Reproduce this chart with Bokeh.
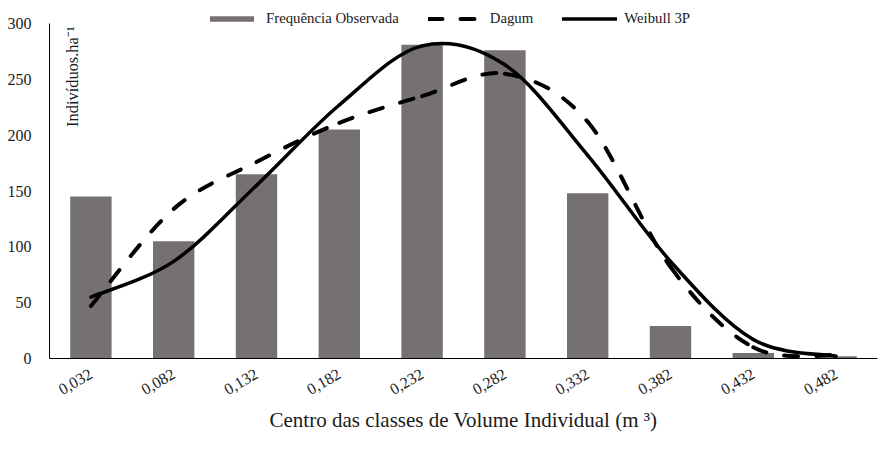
import math
from bokeh.plotting import figure
from bokeh.models import FixedTicker, Legend, LegendItem, Label, Range1d, ColumnDataSource
from bokeh.embed import file_html
from bokeh.resources import INLINE

# ---- data ----
classes = ["0,032", "0,082", "0,132", "0,182", "0,232", "0,282", "0,332", "0,382", "0,432", "0,482"]
observed = [145, 105, 165, 205, 281, 276, 148, 29, 5, 2]
dagum = [47, 134, 176, 211, 235, 255, 212, 82, 10, 3]
weibull = [55, 87, 155, 227, 280, 263, 182, 87, 17, 2]
y_ticks = [0, 50, 100, 150, 200, 250, 300]

FONT = "Liberation Serif"
TXT = "#1a1a1a"

p = figure(width=880, height=443, x_range=classes, y_range=Range1d(0, 320.6),
           output_backend="svg", toolbar_location=None,
           min_border_left=49, min_border_right=3, min_border_top=0, min_border_bottom=85)
p.grid.visible = False
p.outline_line_color = None
p.background_fill_color = "white"
p.border_fill_color = "white"

bars = p.vbar(x=classes, top=observed, width=0.5, fill_color="#767171", line_color=None)


def smooth_segments(vals):
    n = len(vals)
    pts = [(i + 0.5, v) for i, v in enumerate(vals)]
    d = dict(x0=[], y0=[], x1=[], y1=[], cx0=[], cy0=[], cx1=[], cy1=[])
    for i in range(n - 1):
        p0 = pts[i - 1] if i > 0 else pts[i]
        p1 = pts[i]
        p2 = pts[i + 1]
        p3 = pts[i + 2] if i + 2 < n else pts[i + 1]
        d["x0"].append(p1[0]); d["y0"].append(p1[1])
        d["x1"].append(p2[0]); d["y1"].append(p2[1])
        d["cx0"].append(p1[0] + (p2[0] - p0[0]) / 6.0)
        d["cy0"].append(p1[1] + (p2[1] - p0[1]) / 6.0)
        d["cx1"].append(p2[0] - (p3[0] - p1[0]) / 6.0)
        d["cy1"].append(p2[1] - (p3[1] - p1[1]) / 6.0)
    return ColumnDataSource(d)


dash_style = dict(line_color="black", line_width=4, line_dash="14 18", line_cap="round")
solid_style = dict(line_color="black", line_width=3.5, line_cap="round")

r_dagum = p.bezier(x0="x0", y0="y0", x1="x1", y1="y1", cx0="cx0", cy0="cy0", cx1="cx1", cy1="cy1",
                   source=smooth_segments(dagum), **dash_style)
r_weib = p.bezier(x0="x0", y0="y0", x1="x1", y1="y1", cx0="cx0", cy0="cy0", cx1="cx1", cy1="cy1",
                  source=smooth_segments(weibull), **solid_style)

legend = Legend(items=[LegendItem(label="Frequência Observada", renderers=[bars]),
                       LegendItem(label="Dagum", renderers=[r_dagum]),
                       LegendItem(label="Weibull 3P", renderers=[r_weib])],
                orientation="horizontal", location=(155, 331),
                glyph_width=55, glyph_height=7, label_standoff=7, spacing=29,
                padding=0, margin=0, border_line_color=None, background_fill_alpha=0,
                label_text_font=FONT, label_text_font_size="14.8px", label_text_color=TXT)
p.add_layout(legend)

# axes
p.yaxis.ticker = FixedTicker(ticks=y_ticks)
p.yaxis.bounds = (0, 300)
p.yaxis.major_tick_line_color = None
p.yaxis.minor_tick_line_color = None
p.yaxis.axis_line_color = "black"
p.yaxis.major_label_text_font = FONT
p.yaxis.major_label_text_font_size = "16px"
p.yaxis.major_label_text_color = TXT
p.yaxis.major_label_standoff = 12

p.xaxis.major_tick_line_color = None
p.xaxis.minor_tick_line_color = None
p.xaxis.axis_line_color = "black"
p.xaxis.major_label_orientation = math.pi / 6
p.xaxis.major_label_text_font = FONT
p.xaxis.major_label_text_font_size = "16px"
p.xaxis.major_label_text_color = TXT
p.xaxis.major_label_standoff = 8
p.xaxis.axis_label = "Centro das classes de Volume Individual (m ³)"
p.xaxis.axis_label_text_font = FONT
p.xaxis.axis_label_text_font_size = "21px"
p.xaxis.axis_label_text_font_style = "normal"
p.xaxis.axis_label_text_color = TXT
p.xaxis.axis_label_standoff = 5

ytitle = Label(x=0.278, y=297.5, text="Indivíduos.ha⁻¹", angle=math.pi / 2,
               text_align="right", text_baseline="middle",
               text_font=FONT, text_font_size="16.4px", text_color=TXT)
p.add_layout(ytitle)

open("out.html", "w").write(file_html(p, INLINE))
